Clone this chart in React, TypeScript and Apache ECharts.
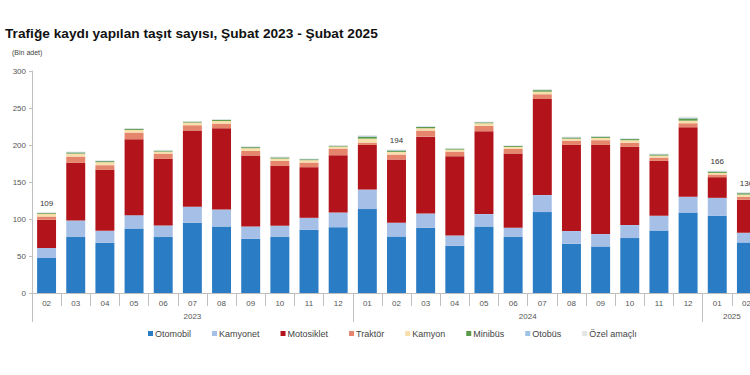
import React, { useEffect, useRef } from "react";
import * as echarts from "echarts";

const months = ["02","03","04","05","06","07","08","09","10","11","12","01","02","03","04","05","06","07","08","09","10","11","12","01","02"];
const years = ["2023", "2024", "2025"];
const yearMonthCounts = [11, 12, 2];

const otomobil = [47.2, 75.6, 67.9, 87.2, 75.6, 94.9, 89.9, 73.3, 75.6, 85.4, 89.0, 113.4, 76.4, 88.1, 63.8, 89.9, 75.6, 109.3, 66.5, 62.9, 74.2, 84.5, 108.8, 104.3, 68.3];
const kamyonet = [13.5, 22.4, 16.1, 18.0, 15.6, 21.6, 22.9, 16.6, 15.2, 16.2, 19.8, 26.4, 18.5, 19.3, 13.9, 16.7, 12.5, 23.0, 17.2, 16.7, 17.6, 19.8, 21.2, 24.3, 13.1];
const motosiklet = [38.2, 77.8, 82.4, 102.6, 90.0, 103.0, 109.9, 95.8, 81.0, 68.4, 77.4, 60.3, 85.5, 103.9, 107.2, 112.0, 100.3, 129.9, 116.4, 120.5, 105.6, 74.2, 94.0, 27.9, 44.5];
const traktor = [4.5, 8.6, 6.3, 9.0, 7.2, 7.2, 6.2, 6.3, 6.7, 6.3, 9.0, 3.1, 6.7, 8.2, 6.2, 7.2, 6.3, 6.4, 5.8, 6.4, 5.8, 4.5, 5.4, 3.6, 4.1];
const kamyon = [3.6, 4.0, 4.1, 3.6, 2.7, 3.6, 3.6, 3.7, 3.2, 3.2, 2.7, 5.4, 3.6, 3.2, 2.7, 3.6, 2.7, 3.5, 2.7, 3.1, 3.3, 2.7, 3.5, 2.2, 3.1];
const minibus = [1.0, 1.5, 1.4, 1.4, 1.2, 1.1, 1.4, 1.4, 1.4, 1.2, 1.0, 2.6, 1.8, 1.7, 1.2, 1.2, 1.2, 2.0, 1.5, 1.5, 1.5, 1.5, 3.0, 1.7, 1.8];
const otobus = [0.4, 0.5, 0.5, 0.5, 0.4, 0.4, 0.5, 0.5, 0.5, 0.4, 0.3, 0.8, 0.6, 0.6, 0.4, 0.4, 0.4, 0.6, 0.5, 0.5, 0.5, 0.5, 1.0, 0.6, 0.6];
const ozelAmacli = [0.6, 0.7, 0.8, 0.7, 0.7, 0.7, 0.8, 0.8, 0.8, 0.6, 0.5, 1.2, 0.8, 0.8, 0.7, 0.6, 0.7, 1.0, 0.7, 0.7, 0.7, 0.7, 1.4, 0.8, 0.8];

const totalLabels: (number | null)[] = [109, null, null, null, null, null, null, null, null, null, null, null, 194, null, null, null, null, null, null, null, null, null, null, 166, 136];

const yTicks = { min: 0, max: 300, interval: 50 };

const FONT = "'Liberation Sans', Arial, sans-serif";

export default function App() {
  const ref = useRef<HTMLDivElement>(null);

  useEffect(() => {
    if (!ref.current) return;
    const chart = echarts.init(ref.current, undefined, { renderer: "svg" });

    const boundaries: number[] = [];
    const centers: number[] = [];
    let acc = 0;
    yearMonthCounts.forEach((c) => {
      boundaries.push(acc);
      centers.push(acc + c / 2);
      acc += c;
    });

    const seriesDefs = [
      { name: "Otomobil", data: otomobil, color: "#2a7cc4" },
      { name: "Kamyonet", data: kamyonet, color: "#a6bfe6" },
      { name: "Motosiklet", data: motosiklet, color: "#b3141b" },
      { name: "Traktör", data: traktor, color: "#e5856c" },
      { name: "Kamyon", data: kamyon, color: "#f7deaa" },
      { name: "Minibüs", data: minibus, color: "#5b9a48" },
      { name: "Otobüs", data: otobus, color: "#9dc3e6" },
      { name: "Özel amaçlı", data: ozelAmacli, color: "#e4e4e4" },
    ];

    const series: any[] = seriesDefs.map((s, i) => ({
      name: s.name,
      type: "bar",
      stack: "total",
      xAxisIndex: 0,
      yAxisIndex: 0,
      barCategoryGap: "35%",
      data: s.data,
      itemStyle: { color: s.color },
      label:
        i === seriesDefs.length - 1
          ? {
              show: true,
              position: "top",
              distance: 5,
              fontSize: 8,
              color: "#333",
              fontFamily: FONT,
              formatter: (p: any) => {
                const v = totalLabels[p.dataIndex];
                return v == null ? "" : String(v);
              },
            }
          : { show: false },
    }));

    chart.setOption({
      animation: false,
      textStyle: { fontFamily: FONT },
      title: [
        {
          text: "Trafiğe kaydı yapılan taşıt sayısı, Şubat 2023 - Şubat 2025",
          left: 5,
          top: 26,
          padding: 0,
          textStyle: { fontSize: 13.7, fontWeight: "bold", color: "#111", fontFamily: FONT },
        },
        {
          text: "(Bin adet)",
          left: 12,
          top: 49,
          padding: 0,
          textStyle: { fontSize: 7, fontWeight: "normal", color: "#444", fontFamily: FONT },
        },
      ],
      legend: {
        left: 143,
        top: 324,
        itemWidth: 5,
        itemHeight: 5,
        itemGap: 21,
        icon: "rect",
        textStyle: { fontSize: 9, color: "#444", fontFamily: FONT, padding: [0, 0, 0, -3] },
        data: seriesDefs.map((s) => s.name),
      },
      grid: { left: 32, top: 71, width: 729, height: 222, containLabel: false },
      xAxis: [
        {
          type: "category",
          data: months,
          position: "bottom",
          axisLine: { show: true, lineStyle: { color: "#bfbfbf", width: 1 } },
          axisTick: { show: true, interval: 0, alignWithLabel: false, length: 13, lineStyle: { color: "#bfbfbf" } },
          axisLabel: { interval: 0, fontSize: 8, color: "#555", margin: 6, fontFamily: FONT },
        },
        {
          type: "value",
          position: "bottom",
          min: 0,
          max: months.length,
          axisLine: { show: false },
          splitLine: { show: false },
          axisTick: { show: true, customValues: boundaries, length: 29, lineStyle: { color: "#bfbfbf" } },
          axisLabel: {
            show: true,
            customValues: centers,
            fontSize: 8,
            color: "#555",
            margin: 19,
            fontFamily: FONT,
            formatter: (v: number) => {
              const idx = centers.findIndex((c) => Math.abs(c - v) < 1e-6);
              return idx >= 0 ? years[idx] : "";
            },
          },
        },
      ],
      yAxis: {
        type: "value",
        min: yTicks.min,
        max: yTicks.max,
        interval: yTicks.interval,
        axisLine: { show: true, lineStyle: { color: "#bfbfbf" } },
        axisTick: { show: true, length: 3, lineStyle: { color: "#bfbfbf" } },
        splitLine: { show: false },
        axisLabel: { fontSize: 8, color: "#555", margin: 6, fontFamily: FONT },
      },
      series,
    });

    return () => chart.dispose();
  }, []);

  return (
    <div style={{ position: "absolute", left: 0, top: 0, width: 750, height: 375, overflow: "hidden", background: "#fff" }}>
      <div ref={ref} style={{ width: 790, height: 375 }} />
    </div>
  );
}
